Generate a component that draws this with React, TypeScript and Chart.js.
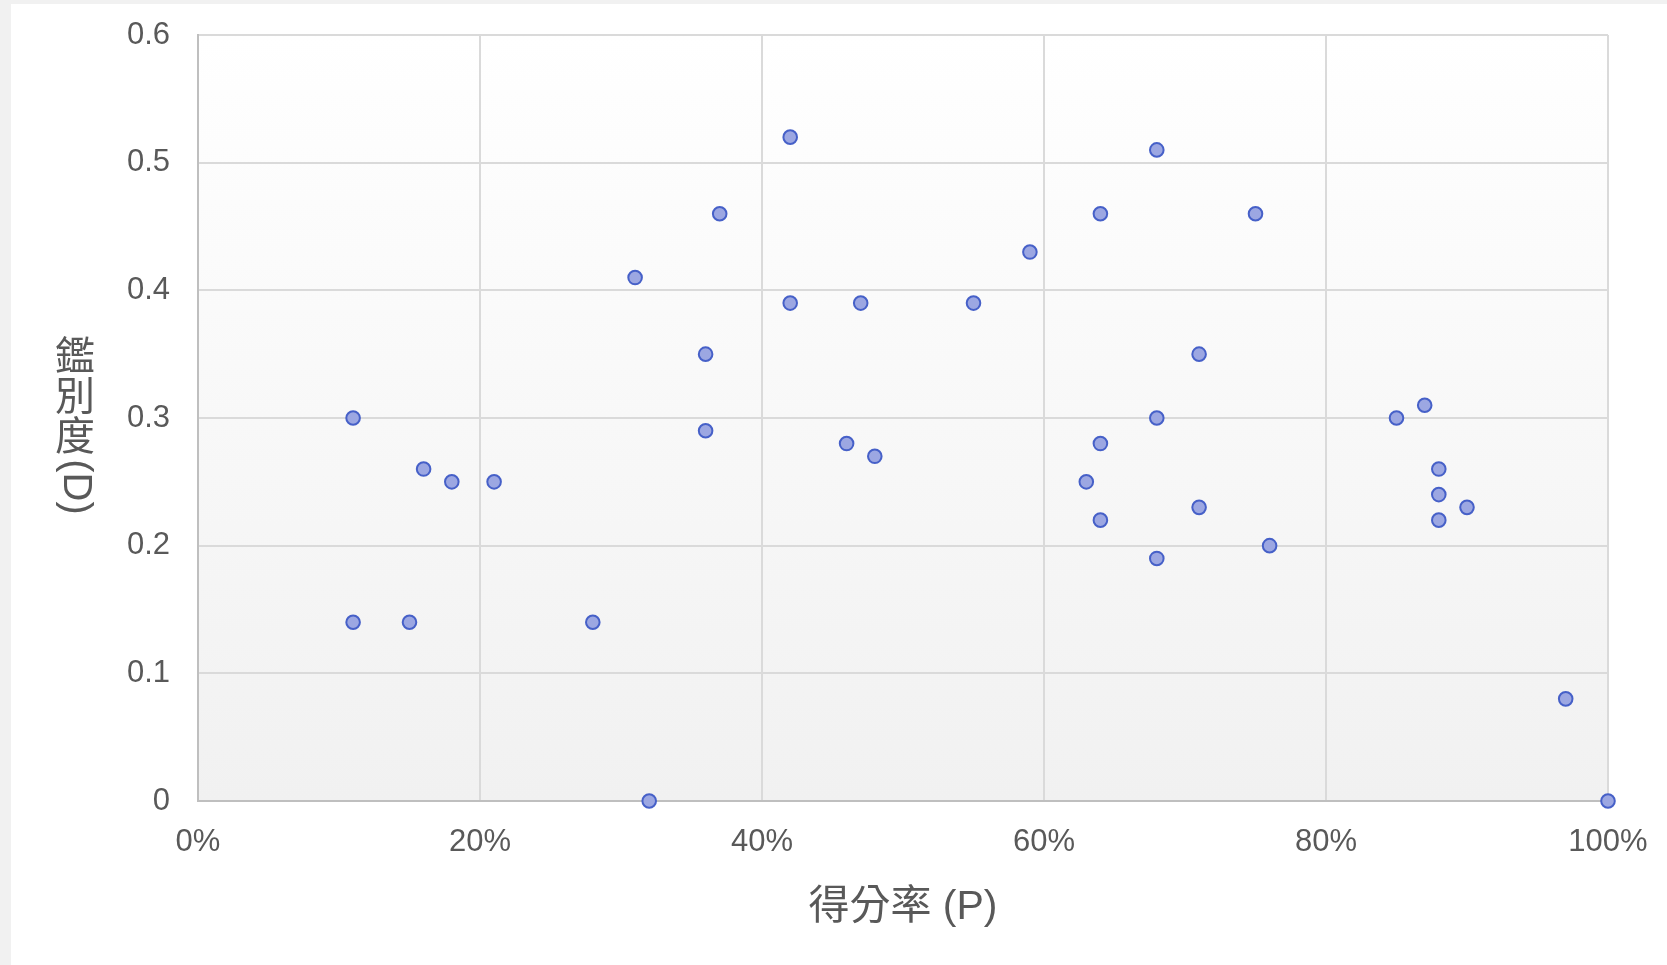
import React, { useEffect, useRef } from 'react';
import { Chart, registerables } from 'chart.js';

Chart.register(...registerables);

// Data
const pValues = [11, 11, 15, 16, 18, 21, 28, 31, 32, 36, 36, 37, 42, 42, 46, 47, 48, 55, 59, 63, 64, 64, 64, 68, 68, 68, 71, 71, 75, 76, 85, 87, 88, 88, 88, 90, 97, 100];
const dValues = [0.30, 0.14, 0.14, 0.26, 0.25, 0.25, 0.14, 0.41, 0, 0.35, 0.29, 0.46, 0.52, 0.39, 0.28, 0.39, 0.27, 0.39, 0.43, 0.25, 0.46, 0.28, 0.22, 0.51, 0.30, 0.19, 0.35, 0.23, 0.46, 0.20, 0.30, 0.31, 0.26, 0.24, 0.22, 0.23, 0.08, 0];

const xTickLabels = ['0%', '20%', '40%', '60%', '80%', '100%'];
const yTickLabels = ['0', '0.1', '0.2', '0.3', '0.4', '0.5', '0.6'];

const xTitle = '得分率 (P)';
const yTitle = '鑑別度(D)';

const FONT_FAMILY = '"Liberation Sans", Arial, "Noto Sans CJK TC", sans-serif';
const TEXT_COLOR = '#595959';

const bgPlugin = {
  id: 'plotBg',
  beforeDraw(chart: any) {
    const { ctx, chartArea } = chart;
    if (!chartArea) return;
    const g = ctx.createLinearGradient(0, chartArea.top, 0, chartArea.bottom);
    g.addColorStop(0, '#ffffff');
    g.addColorStop(1, '#f1f1f1');
    ctx.save();
    ctx.fillStyle = g;
    ctx.fillRect(chartArea.left, chartArea.top, chartArea.right - chartArea.left, chartArea.bottom - chartArea.top);
    ctx.restore();
  },
};

const isCJK = (ch: string) => ch.charCodeAt(0) >= 0x2e80;

const verticalTitlePlugin = {
  id: 'verticalTitle',
  afterDraw(chart: any) {
    const { ctx, chartArea } = chart;
    if (!chartArea) return;
    const size = 40;
    ctx.save();
    ctx.font = `${size}px ${FONT_FAMILY}`;
    ctx.fillStyle = TEXT_COLOR;
    ctx.textAlign = 'center';
    ctx.textBaseline = 'middle';
    const runs: { text: string; cjk: boolean }[] = [];
    for (const ch of Array.from(yTitle)) {
      const c = isCJK(ch);
      const last = runs[runs.length - 1];
      if (last && !last.cjk && !c) last.text += ch;
      else runs.push({ text: ch, cjk: c });
    }
    const lens = runs.map((r) => (r.cjk ? size : ctx.measureText(r.text).width));
    const total = lens.reduce((a, b) => a + b, 0);
    const cx = 64;
    let cursor = (chartArea.top + chartArea.bottom) / 2 + 9 - total / 2;
    runs.forEach((r, i) => {
      const len = lens[i];
      if (r.cjk) {
        ctx.fillText(r.text, cx, cursor + len / 2);
      } else {
        ctx.save();
        ctx.translate(cx, cursor + len / 2);
        ctx.rotate(Math.PI / 2);
        ctx.fillText(r.text, 0, 0);
        ctx.restore();
      }
      cursor += len;
    });
    ctx.restore();
  },
};

export default function App() {
  const canvasRef = useRef<HTMLCanvasElement | null>(null);

  useEffect(() => {
    document.body.style.background = '#f1f1f1';
    const canvas = canvasRef.current;
    if (!canvas) return;
    const points = pValues.map((p, i) => ({ x: p, y: dValues[i] }));
    const chart = new Chart(canvas, {
      type: 'scatter',
      data: {
        datasets: [
          {
            data: points,
            backgroundColor: '#9ca7e2',
            borderColor: '#4660c8',
            borderWidth: 2,
            pointRadius: 6.8,
            pointHoverRadius: 6.8,
            clip: false as any,
          },
        ],
      },
      options: {
        responsive: false,
        animation: false,
        devicePixelRatio: 1,
        layout: { padding: { left: 0, right: 59, top: 31, bottom: 0 } },
        plugins: {
          legend: { display: false },
          tooltip: { enabled: false },
        },
        scales: {
          x: {
            type: 'linear',
            min: 0,
            max: 100,
            afterFit: (s: any) => {
              s.height = 164;
              s.paddingLeft = 0;
              s.paddingRight = 0;
            },
            ticks: {
              stepSize: 20,
              padding: 23,
              color: TEXT_COLOR,
              font: { family: FONT_FAMILY, size: 31 },
              callback: (_v: any, i: number) => xTickLabels[i],
              maxRotation: 0,
            },
            grid: { color: '#dadada', lineWidth: 2, drawTicks: false },
            border: { color: '#bfbfbf', width: 2 },
            title: {
              display: true,
              text: xTitle,
              color: TEXT_COLOR,
              font: { family: FONT_FAMILY, size: 41 },
              padding: { top: 0, bottom: 33 },
            },
          },
          y: {
            type: 'linear',
            min: 0,
            max: 0.6,
            afterFit: (s: any) => {
              s.width = 187;
              s.paddingTop = 0;
              s.paddingBottom = 0;
            },
            ticks: {
              stepSize: 0.1,
              padding: 28,
              color: TEXT_COLOR,
              font: { family: FONT_FAMILY, size: 31 },
              callback: (_v: any, i: number) => yTickLabels[i],
            },
            grid: { color: '#dadada', lineWidth: 2, drawTicks: false },
            border: { color: '#bfbfbf', width: 2 },
          },
        },
      },
      plugins: [bgPlugin, verticalTitlePlugin],
    });
    return () => chart.destroy();
  }, []);

  return (
    <div
      style={{
        position: 'absolute',
        left: 11,
        top: 4,
        width: 1656,
        height: 961,
        background: '#ffffff',
        overflow: 'hidden',
      }}
    >
      <canvas ref={canvasRef} width={1656} height={961} style={{ display: 'block' }} />
    </div>
  );
}
